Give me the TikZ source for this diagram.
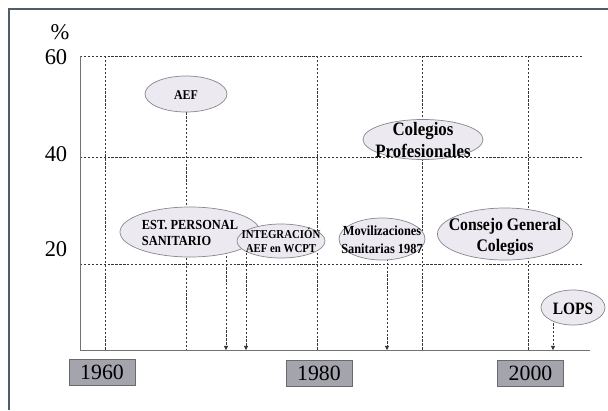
\documentclass[tikz,border=0pt]{standalone}
\usepackage{fontspec}
\usepackage{graphicx}
\setmainfont{Liberation Serif}
\usetikzlibrary{arrows.meta,backgrounds,shapes.geometric}

\definecolor{ellfill}{RGB}{236,234,240}
\definecolor{elldraw}{RGB}{135,135,145}
\definecolor{boxfill}{RGB}{164,164,172}
\definecolor{boxdraw}{RGB}{105,105,112}
\definecolor{framecol}{RGB}{80,92,105}
\definecolor{gridcol}{RGB}{55,55,55}

% text of an ellipse, kept out of the ellipse size
\newcommand{\elltext}[2][c]{\smash{\makebox[0pt]{\raisebox{-.45em}{\scalebox{1}[1.12]{\begin{tabular}{@{}#1@{}}#2\end{tabular}}}}}}

\tikzset{
  ell/.style={ellipse, draw=elldraw, fill=ellfill, inner sep=0pt, line width=0.5pt},
  yearbox/.style={draw=boxdraw, fill=boxfill, minimum width=1.65cm, minimum height=0.65cm,
    inner sep=0pt, font=\fontsize{15.5}{18}\selectfont},
  ylab/.style={font=\fontsize{16}{18}\selectfont, inner sep=0pt},
  grid/.style={gridcol, line width=0.45pt, dash pattern=on 1.6pt off 1.2pt},
  link/.style={gridcol, line width=0.45pt, dash pattern=on 1.6pt off 1.2pt},
}

\begin{document}
\begin{tikzpicture}[x=0.025cm, y=-0.025cm]

  \useasboundingbox (0,0) rectangle (608,410);

  % Frame
  \draw[framecol, line width=1pt] (9,410) -- (9,9) -- (608,9);

  % Axis
  \draw[gray!90!black, line width=0.6pt] (80,56) -- (80,350) -- (590,350);
  \coordinate (t1) at (226,350);
  \coordinate (t2) at (246,350);
  \coordinate (t3) at (387,350);
  \coordinate (t4) at (553,350);

  \node[ylab] (pct) at (60,32)    {\%};
  \node[ylab] (v60) at (56,57.5)  {60};
  \node[ylab] (v40) at (56,154)   {40};
  \node[ylab] (v20) at (56,249.5) {20};

  \node[yearbox] (y1960) at (102,372)   {1960};
  \node[yearbox] (y1980) at (319,373.5) {1980};
  \node[yearbox] (y2000) at (530.5,373.5) {2000};

  % Events
  \node[ell, minimum width=2.05cm, minimum height=0.9cm, font=\fontsize{8.5}{10}\selectfont\bfseries]
    (aef) at (186,94) {\elltext{AEF}};
  \node[ell, minimum width=3cm, minimum height=1cm, font=\fontsize{12}{14}\selectfont\bfseries]
    (colprof) at (423,139.5) {\elltext{Colegios\\Profesionales}};
  \node[ell, minimum width=3.5cm, minimum height=1.25cm, font=\fontsize{8.8}{10.5}\selectfont\bfseries]
    (est) at (190,232) {\elltext[l]{EST. PERSONAL\\SANITARIO}};
  \node[ell, minimum width=2.2cm, minimum height=0.85cm, font=\fontsize{7.7}{9}\selectfont\bfseries]
    (integ) at (281,241) {\elltext{INTEGRACIÓN\\AEF en WCPT}};
  \node[ell, minimum width=2.15cm, minimum height=1.05cm, font=\fontsize{8.8}{11}\selectfont\bfseries]
    (movil) at (382,239) {\elltext{Movilizaciones\\Sanitarias 1987}};
  \node[ell, minimum width=3.375cm, minimum height=1.3cm, font=\fontsize{11.2}{13.5}\selectfont\bfseries]
    (consejo) at (505,234) {\elltext{Consejo General\\Colegios}};
  \node[ell, minimum width=1.6cm, minimum height=0.875cm, font=\fontsize{11}{13}\selectfont\bfseries]
    (lops) at (573,307.5) {\elltext{LOPS}};

  \begin{pgfonlayer}{background}
    % Grid
    \foreach \y in {56,157,264}
      \draw[grid] (80,\y) -- (583,\y);
    \foreach \x in {105,317,422,528}
      \draw[grid] (\x,56) -- (\x,350);

    % Arrows
    \draw[link] (aef) -- (aef |- t1);
    \draw[link, -{Triangle[length=3pt, width=3pt]}] (est -| t1) -- (t1);
    \draw[link, -{Triangle[length=3pt, width=3pt]}] (integ -| t2) -- (t2);
    \draw[link, -{Triangle[length=3pt, width=3pt]}] (movil -| t3) -- (t3);
    \draw[link, -{Triangle[length=3pt, width=3pt]}] (lops -| t4) -- (t4);
  \end{pgfonlayer}

\end{tikzpicture}
\end{document}
